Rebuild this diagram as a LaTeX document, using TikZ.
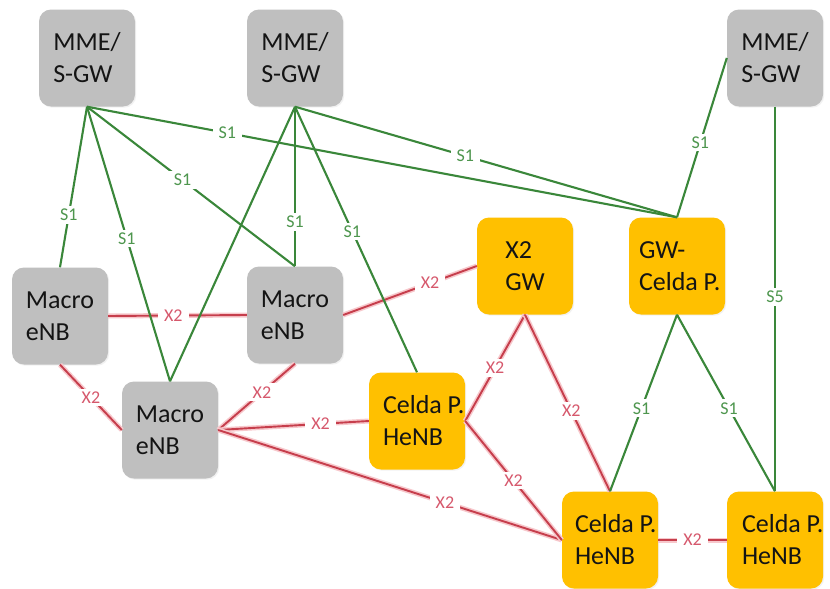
\documentclass[tikz,border=0pt]{standalone}
\usepackage{fontspec}
\setmainfont{Carlito}
\usetikzlibrary{shadows}
\definecolor{boxgray}{RGB}{191,191,191}
\definecolor{boxgold}{RGB}{255,192,0}
\definecolor{sgreen}{RGB}{58,135,58}
\definecolor{slab}{RGB}{78,150,78}
\definecolor{xred}{RGB}{198,62,76}
\definecolor{xglow}{RGB}{247,200,204}
\definecolor{xlab}{RGB}{214,88,108}
\newcommand{\lbx}[2]{\makebox[#1][l]{#2}}
\begin{document}
\begin{tikzpicture}[x=1pt,y=-1pt,
  box/.style={rounded corners=12pt, minimum width=96pt, minimum height=97pt,
    align=left, inner sep=0pt, font=\fontsize{26}{32}\selectfont, text=black!92},
  graybox/.style={box, fill=boxgray,
    drop shadow={shadow xshift=1.2pt, shadow yshift=-1.2pt, fill=black!10}},
  goldbox/.style={box, fill=boxgold,
    drop shadow={shadow xshift=1.2pt, shadow yshift=-1.2pt, fill=black!10}},
  sline/.style={draw=sgreen, line width=2.1pt},
  xline/.style={draw=xred, line width=1.9pt, preaction={draw=xglow, line width=5pt}},
  s1lab/.style={fill=white, text=slab, font=\fontsize{18}{20}\selectfont, inner xsep=6pt, inner ysep=3pt},
  x2lab/.style={fill=white, text=xlab, font=\fontsize{18}{20}\selectfont, inner xsep=6pt, inner ysep=3pt},
]
\useasboundingbox[fill=white] (0,0) rectangle (830,589);

% nodes
\node[graybox] (mme1) at (87,58) {MME/\\S-GW};
\node[graybox] (mme2) at (295,58) {MME/\\S-GW};
\node[graybox] (mme3) at (775,58) {MME/\\S-GW};
\node[graybox] (mac1) at (60,316) {Macro\\eNB};
\node[graybox] (mac2) at (295,315) {Macro\\eNB};
\node[graybox] (mac3) at (170,430) {Macro\\eNB};
\node[goldbox] (ch1) at (417,421) {\lbx{68pt}{Celda P.}\\HeNB};
\node[goldbox] (x2gw) at (525,266) {X2\\GW};
\node[goldbox] (gwc) at (677,266) {\lbx{76pt}{GW-}\\\lbx{76pt}{Celda P.}};
\node[goldbox] (cbm) at (610,540) {\lbx{70pt}{Celda P.}\\HeNB};
\node[goldbox] (cbr) at (775,540) {\lbx{66pt}{Celda P.}\\HeNB};

% red X2 links
\draw[xline] (mac1.east) -- node[x2lab, pos=0.47] (r1) {X2} (mac2.west);
\draw[xline] (mac2.east) -- node[x2lab, pos=0.65] (r2) {X2} (x2gw.west);
\draw[xline] (mac1.south) -- node[x2lab, pos=0.5] (r3) {X2} (mac3.west);
\draw[xline] (mac2.south) -- node[x2lab, pos=0.43] (r4) {X2} (mac3.east);
\draw[xline] (ch1.west) -- node[x2lab, pos=0.32] (r5) {X2} (mac3.east);
\draw[xline] (mac3.east) -- node[x2lab, pos=0.66] (r6) {X2} (cbm.west);
\draw[xline] (ch1.east) -- node[x2lab, pos=0.5] (r7) {X2} (x2gw.south);
\draw[xline] (ch1.east) -- node[x2lab, pos=0.5] (r8) {X2} (cbm.west);
\draw[xline] (x2gw.south) -- node[x2lab, pos=0.545] (r9) {X2} (cbm.north);
\draw[xline] (cbm.east) -- node[x2lab, pos=0.5] (r10) {X2} (cbr.west);

% green S1/S5 links
\draw[sline] (mme1.south) -- node[s1lab, pos=0.675] (g1) {S1} (mac1.north);
\draw[sline] (mme1.south) -- node[s1lab, pos=0.48] (g2) {S1} (mac3.north);
\draw[sline] (mme1.south) -- node[s1lab, pos=0.46] (g3) {S1} (mac2.north);
\draw[sline] (mme1.south) -- node[s1lab, pos=0.238] (g4) {S1} (gwc.north);
\draw[sline] (mme2.south) -- (mac3.north);
\draw[sline] (mme2.south) -- node[s1lab, pos=0.72] (g5) {S1} (mac2.north);
\draw[sline] (mme2.south) -- node[s1lab, pos=0.47] (g6) {S1} (ch1.north);
\draw[sline] (mme2.south) -- node[s1lab, pos=0.446] (g7) {S1} (gwc.north);
\draw[sline] (mme3.west) -- node[s1lab, pos=0.53] (g8) {S1} (gwc.north);
\draw[sline] (mme3.south) -- node[s1lab, pos=0.495] (g9) {S5} (cbr.north);
\draw[sline] (gwc.south) -- node[s1lab, pos=0.53] (g10) {S1} (cbm.north);
\draw[sline] (gwc.south) -- node[s1lab, pos=0.53] (g11) {S1} (cbr.north);
\end{tikzpicture}
\end{document}
